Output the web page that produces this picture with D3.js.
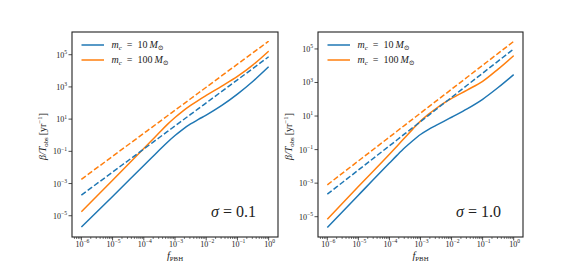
<!DOCTYPE html>
<html>
<head>
<meta charset="utf-8">
<script src="https://cdn.jsdelivr.net/npm/d3@7"></script>
<style>
  html, body { margin: 0; padding: 0; background: #fff; }
  svg { display: block; }
  text { font-family: "Liberation Serif", "DejaVu Serif", serif; fill: #222; }
</style>
</head>
<body>
<svg id="chart" width="581" height="271"></svg>
<script>
// ---------------- data ----------------
const fPBH = [1e-6, 1e-5, 1e-4, 1.78e-4, 3.16e-4, 5.62e-4, 1e-3, 1.78e-3, 3.16e-3, 5.62e-3,
              1e-2, 3.16e-2, 1e-1, 3.16e-1, 1];

// sigma = 0.1 panel
const s01_m10_solid   = [2.0e-6, 1.58e-4, 1.32e-2, 3.98e-2, 0.12, 0.355, 0.955, 2.34, 5.01, 9.55,
                         17.8, 70.8, 355, 2240, 17800];
const s01_m100_solid  = [1.78e-5, 1.58e-3, 0.148, 0.468, 1.48, 4.57, 12.6, 31.6, 70.8, 148,
                         295, 1120, 4470, 23400, 166000];
const s01_m10_dashed  = [1.91e-4, 5.15e-3, 0.139, 0.318, 0.724, 1.65, 3.77, 8.59, 19.6, 44.7,
                         102, 530, 2750, 14300, 74500];
const s01_m100_dashed = [1.82e-3, 0.049, 1.32, 3.0, 6.84, 15.6, 35.5, 80.8, 184, 419,
                         955, 4950, 25700, 133000, 692000];

// sigma = 1.0 panel
const s10_m10_solid   = [2.24e-6, 1.91e-4, 1.58e-2, 4.68e-2, 0.132, 0.339, 0.794, 1.55, 2.75, 4.79,
                         8.51, 26.9, 100, 501, 2950];
const s10_m100_solid  = [7.08e-6, 6.31e-4, 5.25e-2, 0.166, 0.525, 1.66, 5.01, 12.6, 28.2, 58.9,
                         112, 355, 1170, 6310, 39800];
const s10_m10_dashed  = [2.19e-4, 6.07e-3, 0.168, 0.386, 0.886, 2.03, 4.67, 10.7, 24.5, 56.4,
                         129, 682, 3590, 18900, 99500];
const s10_m100_dashed = [7.94e-4, 2.11e-2, 0.562, 1.28, 2.90, 6.59, 15.0, 34.0, 77.2, 175,
                         398, 2050, 10600, 54700, 282000];

const xTickExp = [-6, -5, -4, -3, -2, -1, 0];
const yTickExp = [5, 3, 1, -1, -3, -5];
const legendLabels = ["10", "100"];
const sigmaLabels = ["0.1", "1.0"];

// ---------------- drawing ----------------
const svg = d3.select("#chart");
const BLUE = "#1f77b4", ORANGE = "#ff7f0e";
const DASH = "5.5,2.4";

const panels = [
  { x0: 72, x1: 278, yDom: [Math.pow(10, -6.32), Math.pow(10, 6.41)], sigma: sigmaLabels[0],
    series: [
      { v: s01_m10_solid, c: BLUE, dash: null },
      { v: s01_m100_solid, c: ORANGE, dash: null },
      { v: s01_m10_dashed, c: BLUE, dash: DASH },
      { v: s01_m100_dashed, c: ORANGE, dash: DASH } ] },
  { x0: 318, x1: 523, yDom: [Math.pow(10, -6.21), Math.pow(10, 6.01)], sigma: sigmaLabels[1],
    series: [
      { v: s10_m10_solid, c: BLUE, dash: null },
      { v: s10_m100_solid, c: ORANGE, dash: null },
      { v: s10_m10_dashed, c: BLUE, dash: DASH },
      { v: s10_m100_dashed, c: ORANGE, dash: DASH } ] }
];
const Y0 = 32, Y1 = 237;

function pow10Label(sel, exp, baseSize, supSize) {
  sel.append("tspan").text("10").attr("font-size", baseSize);
  sel.append("tspan").text(exp < 0 ? "\u2212" + (-exp) : String(exp))
     .attr("font-size", supSize).attr("dy", -baseSize * 0.45);
}

panels.forEach((p, pi) => {
  const x = d3.scaleLog().domain([Math.pow(10, -6.3), Math.pow(10, 0.3)]).range([p.x0, p.x1]);
  const y = d3.scaleLog().domain(p.yDom).range([Y1, Y0]);
  const g = svg.append("g");

  const clipId = "clip" + pi;
  g.append("clipPath").attr("id", clipId).append("rect")
    .attr("x", p.x0).attr("y", Y0).attr("width", p.x1 - p.x0).attr("height", Y1 - Y0);

  const line = d3.line().x((d, i) => x(fPBH[i])).y(d => y(d)).curve(d3.curveMonotoneX);
  p.series.forEach(s => {
    g.append("path").attr("d", line(s.v)).attr("fill", "none")
      .attr("stroke", s.c).attr("stroke-width", 1.5)
      .attr("stroke-dasharray", s.dash)
      .attr("clip-path", "url(#" + clipId + ")");
  });

  // x axis ticks (major + minor)
  const minor = [];
  for (let e = -7; e <= 0; e++) for (let k = 2; k <= 9; k++) {
    const v = k * Math.pow(10, e);
    if (v >= x.domain()[0] && v <= x.domain()[1]) minor.push(v);
  }
  g.selectAll(".xminor").data(minor).enter().append("line")
    .attr("x1", d => x(d)).attr("x2", d => x(d)).attr("y1", Y1).attr("y2", Y1 + 2)
    .attr("stroke", "#222").attr("stroke-width", 0.6);
  g.selectAll(".xmajor").data(xTickExp).enter().append("line")
    .attr("x1", d => x(Math.pow(10, d))).attr("x2", d => x(Math.pow(10, d)))
    .attr("y1", Y1).attr("y2", Y1 + 3.5).attr("stroke", "#222").attr("stroke-width", 0.8);
  xTickExp.forEach(e => {
    const t = g.append("text").attr("x", x(Math.pow(10, e)) + 1).attr("y", 246.5)
      .attr("text-anchor", "middle");
    pow10Label(t, e, 8, 5.6);
  });

  // y ticks
  g.selectAll(".ymajor").data(yTickExp).enter().append("line")
    .attr("x1", p.x0 - 3.5).attr("x2", p.x0)
    .attr("y1", d => y(Math.pow(10, d))).attr("y2", d => y(Math.pow(10, d)))
    .attr("stroke", "#222").attr("stroke-width", 0.8);
  yTickExp.forEach(e => {
    const t = g.append("text").attr("x", p.x0 - 5).attr("y", y(Math.pow(10, e)) + 3)
      .attr("text-anchor", "end");
    pow10Label(t, e, 8, 5.6);
  });

  // frame
  g.append("rect").attr("x", p.x0).attr("y", Y0).attr("width", p.x1 - p.x0).attr("height", Y1 - Y0)
    .attr("fill", "none").attr("stroke", "#222").attr("stroke-width", 1.1);

  // legend
  const lx = p.x0 + 9.5;
  [[BLUE, legendLabels[0]], [ORANGE, legendLabels[1]]].forEach((it, i) => {
    const ly = 45 + i * 15;
    g.append("line").attr("x1", lx).attr("x2", lx + 22.5).attr("y1", ly).attr("y2", ly)
      .attr("stroke", it[0]).attr("stroke-width", 1.5);
    const t = g.append("text").attr("x", lx + 30).attr("y", ly + 3.3).attr("font-size", 10);
    t.append("tspan").text("m").attr("font-style", "italic");
    t.append("tspan").text("c").attr("font-style", "italic").attr("font-size", 7).attr("dy", 2);
    t.append("tspan").text("\u2002=\u2002" + it[1] + "\u2009").attr("dy", -2);
    t.append("tspan").text("M").attr("font-style", "italic");
    t.append("tspan").text("\u2299").attr("font-size", 7).attr("dy", 2);
  });

  // sigma label
  const st = g.append("text").attr("x", p.x1 - 22).attr("y", 217).attr("text-anchor", "end")
    .attr("font-size", 16);
  st.append("tspan").text("\u03c3").attr("font-style", "italic");
  st.append("tspan").text(" = " + p.sigma);

  // x label
  const xl = g.append("text").attr("x", (p.x0 + p.x1) / 2).attr("y", 259).attr("text-anchor", "middle")
    .attr("font-size", 10.5);
  xl.append("tspan").text("f").attr("font-style", "italic");
  xl.append("tspan").text("PBH").attr("font-size", 6.8).attr("dy", 2);

  // y label
  const ylx = pi === 0 ? 46 : 292;
  const yl = g.append("text").attr("transform", `translate(${ylx},${(Y0 + Y1) / 2 + 2}) rotate(-90)`)
    .attr("text-anchor", "middle").attr("font-size", 10);
  yl.append("tspan").text("\u03b2/").attr("font-style", "italic");
  yl.append("tspan").text("T").attr("font-style", "italic");
  yl.append("tspan").text("obs").attr("font-size", 6.8).attr("dy", 1.8);
  yl.append("tspan").text("\u2009[yr").attr("dy", -1.8);
  yl.append("tspan").text("\u22121").attr("font-size", 6.8).attr("dy", -3.6);
  yl.append("tspan").text("]").attr("dy", 3.6);
});
</script>
</body>
</html>
